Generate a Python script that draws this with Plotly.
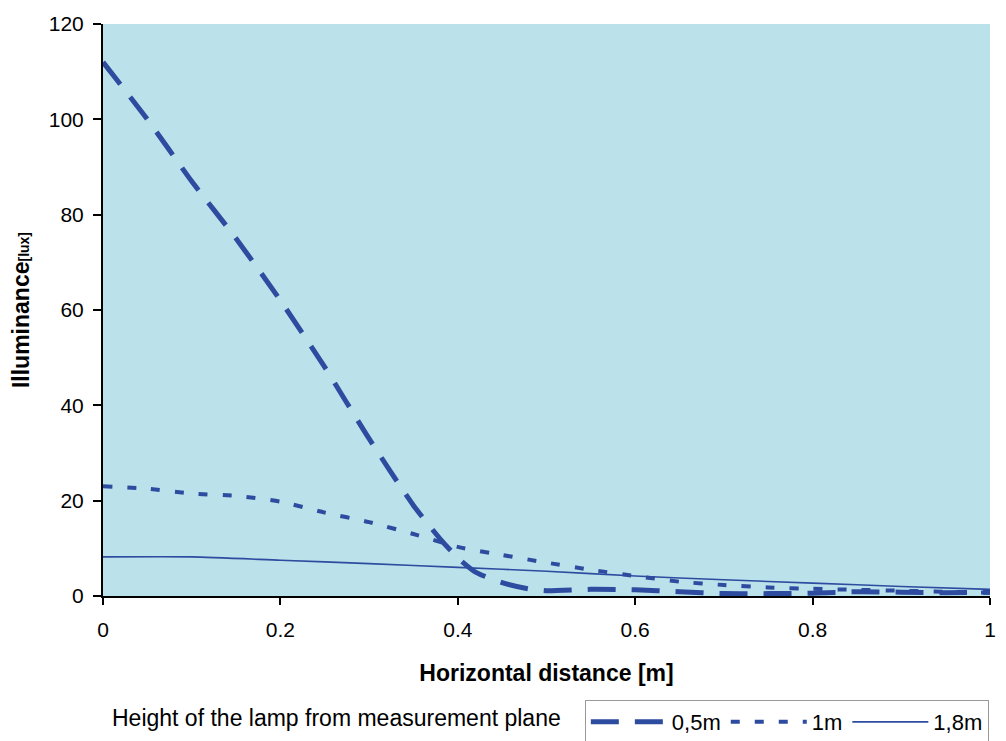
import plotly.graph_objects as go

x_05 = [0, 0.05, 0.1, 0.15, 0.2, 0.25, 0.3, 0.35, 0.38, 0.4, 0.42, 0.45, 0.48, 0.5, 0.55, 0.6, 0.65, 0.7, 0.75, 0.8, 0.85, 0.9, 0.95, 1.0]
y_05 = [112, 100, 87, 75, 62, 48, 33, 19, 12, 8, 5, 2.8, 1.5, 1.1, 1.4, 1.3, 0.9, 0.5, 0.5, 0.6, 0.9, 0.8, 0.7, 0.8]

x_1 = [0, 0.05, 0.1, 0.15, 0.2, 0.25, 0.3, 0.35, 0.4, 0.45, 0.5, 0.55, 0.6, 0.65, 0.7, 0.75, 0.8, 0.85, 0.9, 0.95, 1.0]
y_1 = [23, 22.5, 21.5, 21, 19.8, 17.5, 15.5, 13, 10.3, 8.6, 7, 5.5, 4.2, 3, 2.3, 1.8, 1.5, 1.3, 1.1, 0.9, 0.7]

x_18 = [0, 0.1, 0.2, 0.3, 0.4, 0.5, 0.6, 0.7, 0.8, 0.9, 1.0]
y_18 = [8.2, 8.2, 7.5, 6.8, 6.0, 5.2, 4.2, 3.4, 2.7, 2.0, 1.4]

names = ["0,5m", "1m", "1,8m"]
x_ticks = [0, 0.2, 0.4, 0.6, 0.8, 1]
x_tick_labels = ["0", "0.2", "0.4", "0.6", "0.8", "1"]
y_ticks = [0, 20, 40, 60, 80, 100, 120]

color = "#2D4CA0"
font = "Liberation Sans, Arial, sans-serif"

fig = go.Figure()
fig.add_trace(go.Scatter(x=x_05, y=y_05, mode="lines", name=names[0],
                         line=dict(color=color, width=5, dash="28px,16px", shape="spline", smoothing=0.6)))
fig.add_trace(go.Scatter(x=x_1, y=y_1, mode="lines", name=names[1],
                         line=dict(color=color, width=4, dash="9px,15px", shape="spline", smoothing=0.6)))
fig.add_trace(go.Scatter(x=x_18, y=y_18, mode="lines", name=names[2],
                         line=dict(color=color, width=1.6, shape="spline", smoothing=0.6)))

fig.update_layout(
    width=998, height=733,
    margin=dict(l=95, r=16, t=16, b=145, autoexpand=False),
    paper_bgcolor="white",
    plot_bgcolor="#BBE1EA",
    font=dict(family=font, size=21, color="black"),
    showlegend=True,
    legend=dict(orientation="h", xref="container", yref="container",
                x=0.578, xanchor="left", y=0.0559, yanchor="top",
                bordercolor="#999999", borderwidth=1, bgcolor="white",
                font=dict(size=22), traceorder="normal", itemwidth=76),
    xaxis=dict(range=[0, 1], tickvals=x_ticks, ticktext=x_tick_labels, automargin=False,
               showgrid=False, zeroline=False, showline=True, linecolor="black", linewidth=2,
               ticks="outside", ticklen=7, tickwidth=2, tickcolor="black", ticklabelstandoff=7,
               title=dict(text="<b>Horizontal distance [m]</b>", font=dict(size=23), standoff=25)),
    yaxis=dict(range=[0, 120], tickvals=y_ticks, automargin=False,
               showgrid=False, zeroline=False, showline=True, linecolor="black", linewidth=2,
               ticks="outside", ticklen=8, tickwidth=2, tickcolor="black", ticklabelstandoff=5,
               title=dict(text="<b>Illuminance</b><span style='font-size:14px'><b>[lux]</b></span>",
                          font=dict(size=23), standoff=20)),
    annotations=[dict(text="Height of the lamp from measurement plane", xref="paper", yref="paper",
                      x=0.008, y=-0.2133, xanchor="left", yanchor="middle", showarrow=False,
                      font=dict(size=23))],
)

fig.write_html("out.html")
